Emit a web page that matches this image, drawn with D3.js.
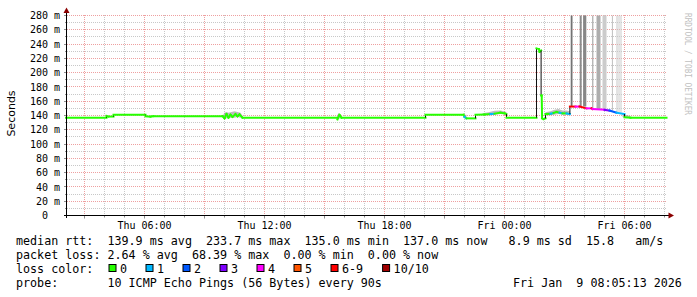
<!DOCTYPE html>
<html><head><meta charset="utf-8">
<script src="https://cdn.jsdelivr.net/npm/d3@7"></script>
<style>
html,body{margin:0;padding:0;background:#fff;}
svg{display:block;}
text{font-family:"DejaVu Sans Mono",monospace;}
</style></head><body>
<svg id="c" width="697" height="297"></svg>
<script>
// ---- data (time = hours since Thu 00:00) ----
const hours    = [2.08,4.1,4.1,4.2,4.45,4.45,6.05,6.05,6.3,6.45,9.9,10.0,10.1,10.2,10.3,10.4,10.55,10.65,10.75,10.9,15.65,15.65,15.75,15.85,20.05,20.05,21.95,22.0,22.1,22.55,22.55,23.0,23.3,23.5,23.8,24.0,24.1,24.1,25.6,25.6,25.72,25.75,25.83,25.83,25.86,25.88,25.95,26.05,26.05,26.3,26.45,26.6,26.75,26.9,27.1,27.27,27.27,27.55,27.75,28.1,28.35,28.4,29.0,29.25,29.6,30.0,30.0,30.3,32.1];
const medianMs = [137,137,139.5,138.5,138.5,141,141,139,138.5,139,139,136,142,137,141,138,142,139,141.5,137,137,134.5,141,137,137,141,141,138,136,136,141,141.5,142,142.5,144,143,142,137,137,234,233,229,231,168,168,136,135,136,142,142.5,143.5,145,144,143,143,142,152.5,152.5,152.5,150,150,149,148,147,144,142,137.5,137,137];
const lossPings= [0,0,0,0,0,0,0,0,0,0,0,0,0,0,0,0,0,0,0,0,0,0,0,0,0,0,0,1,0,0,0,0,1,0,0,0,0,0,0,0,0,0,0,0,0,0,0,0,0,1,0,0,1,0,1,0,7,4,7,4,7,4,3,2,1,1,0,0,0];

const smokeHours = [9.92,10.0,10.1,10.2,10.35,10.5,10.65,10.8,10.92,null,15.6,15.7,15.8,15.9,null,22.0,22.1,null,22.9,23.2,23.5,23.8,24.1,null,26.05,26.3,26.5,26.7,26.9,27.1,27.27,null,29.9,30.05,30.3];
const smokeLoMs  = [138,135,136,136,137,137,138,137,137,null,134,135,136,137,null,136,136,null,140,140.5,141,142,141,null,140,140.5,141,142,141,141,140,null,138,136.5,136.5];
const smokeHiMs  = [140,144,145,144,145,146,145,144,139,null,137,144,139,138,null,141,141,null,143,144.5,146.5,147,145,null,144.5,146,148,149,147,147,146,null,143,141,139];

const spikeHours = [27.31,27.76,27.93,28.39,28.6,28.9,29.37,29.6,29.7,29.8];
const spikeSpan  = [0.09,0.1,0.16,0.05,0.2,0.2,0.05,0.05,0.05,0.05];
const spikeShare = [0.55,0.45,0.47,0.4,0.32,0.2,0.25,0.22,0.2,0.2];

const yTickValues = d3.range(0, 281, 20);
const yMinorValues = d3.range(10, 281, 20);
const xLabelHours = [6, 12, 18, 24, 30];
const xLabelText  = ["Thu 06:00","Thu 12:00","Thu 18:00","Fri 00:00","Fri 06:00"];
const lossLabels = ["0","1","2","3","4","5","6-9","10/10"];
const lossColors = ["#26ff00","#00b8ff","#0059ff","#7e00ff","#ff00ff","#ff5500","#ff0000","#a00000"];
const statLines = [
  "median rtt:  139.9 ms avg  233.7 ms max  135.0 ms min  137.0 ms now   8.9 ms sd  15.8   am/s",
  "packet loss: 2.64 % avg  68.39 % max  0.00 % min  0.00 % now",
  "loss color:",
  "probe:       10 ICMP Echo Pings (56 Bytes) every 90s"
];
const stampText = "Fri Jan  9 08:05:13 2026";
const yTitle = "Seconds";
const watermark = "RRDTOOL / TOBI OETIKER";

// ---- drawing ----
const nb = s => s.replace(/ /g, "\u00a0");
const svg = d3.select("#c");
const x = d3.scaleLinear().domain([2.125, 32.125]).range([67, 667]);
const y = d3.scaleLinear().domain([0, 280]).range([215.5, 15.5]);
const crisp = v => Math.round(v - 0.5) + 0.5;
const lossColor = n => n <= 5 ? lossColors[n] : (n < 10 ? lossColors[6] : lossColors[7]);

const grid = svg.append("g");
grid.selectAll("line.hm").data(yMinorValues).join("line")
  .attr("x1", 67).attr("x2", 667).attr("y1", d => crisp(y(d))).attr("y2", d => crisp(y(d)))
  .attr("stroke", "#c8c8c8").attr("stroke-dasharray", "1,1");
const hourTicks = d3.range(3, 33).filter(h => h % 3 !== 0);
grid.selectAll("line.vm").data(hourTicks).join("line")
  .attr("x1", d => crisp(x(d))).attr("x2", d => crisp(x(d))).attr("y1", 15).attr("y2", 215)
  .attr("stroke", "#c8c8c8").attr("stroke-dasharray", "1,1");
grid.selectAll("line.hM").data(yTickValues.filter(v => v > 0)).join("line")
  .attr("x1", 67).attr("x2", 667).attr("y1", d => crisp(y(d))).attr("y2", d => crisp(y(d)))
  .attr("stroke", "#eea0a0").attr("stroke-dasharray", "1,1");
const majorHours = d3.range(3, 33).filter(h => h % 3 === 0);
grid.selectAll("line.vM").data(majorHours).join("line")
  .attr("x1", d => crisp(x(d))).attr("x2", d => crisp(x(d))).attr("y1", 15).attr("y2", 215)
  .attr("stroke", "#eea0a0").attr("stroke-dasharray", "1,1");

// spikes (smoke reaching the top)
const pts = hours.map((h, i) => ({h, v: medianMs[i], l: lossPings[i]}));
const medianAt = h => { const i = Math.max(0, d3.bisectRight(hours, h) - 1); return medianMs[i]; };
svg.append("g").selectAll("rect").data(spikeHours.map((h, i) => ({h, s: spikeSpan[i], k: spikeShare[i]}))).join("rect")
  .attr("x", d => x(d.h)).attr("width", d => Math.max(1, x(d.h + d.s) - x(d.h)))
  .attr("y", y(280)).attr("height", d => y(medianAt(d.h)) - y(280))
  .attr("fill", d => d3.interpolateRgb("#ffffff", "#000000")(d.k));

// smoke
const smoke = smokeHours.map((h, i) => ({h, lo: smokeLoMs[i], hi: smokeHiMs[i]}));
svg.append("path").datum(smoke)
  .attr("d", d3.area().defined(d => d.h != null).x(d => x(d.h)).y0(d => y(d.lo)).y1(d => y(d.hi)))
  .attr("fill", "#9a9a9a").attr("opacity", 0.65);

// median line, coloured by loss
const segs = d3.pairs(pts);
svg.append("g").selectAll("line").data(segs).join("line")
  .attr("x1", d => x(d[0].h)).attr("y1", d => y(d[0].v))
  .attr("x2", d => x(d[1].h)).attr("y2", d => y(d[1].v))
  .attr("stroke", d => d[0].h === d[1].h ? "#111" : lossColor(d[0].l))
  .attr("stroke-width", d => d[0].h === d[1].h ? 1 : 2)
  .attr("stroke-linecap", d => d[0].h === d[1].h ? "butt" : "square");

// axes
const ax = svg.append("g");
ax.append("line").attr("x1", 66.5).attr("x2", 66.5).attr("y1", 12).attr("y2", 218).attr("stroke", "#000");
ax.append("line").attr("x1", 64).attr("x2", 669).attr("y1", 215.5).attr("y2", 215.5).attr("stroke", "#000");
ax.append("path").attr("d", "M63.5,13 L69.5,13 L66.5,7.5 Z").attr("fill", "#8b0000");
ax.append("path").attr("d", "M668.5,212.5 L668.5,218.5 L674,215.5 Z").attr("fill", "#8b0000");
ax.selectAll("line.xt").data(d3.range(3, 33)).join("line")
  .attr("x1", d => crisp(x(d))).attr("x2", d => crisp(x(d)))
  .attr("y1", 216).attr("y2", d => d % 3 === 0 ? 218.5 : 217.5)
  .attr("stroke", "#909090");
ax.selectAll("line.yt").data(d3.range(10, 281, 10)).join("line")
  .attr("x1", d => d % 20 === 0 ? 64 : 65).attr("x2", 66)
  .attr("y1", d => crisp(y(d))).attr("y2", d => crisp(y(d)))
  .attr("stroke", "#909090");

// y labels
svg.append("g").selectAll("text").data(yTickValues).join("text")
  .attr("x", 60).attr("y", d => y(d) + 3.6).attr("text-anchor", "end")
  .attr("font-size", "10px").attr("fill", "#000")
  .text(d => nb(d === 0 ? "0  " : d + " m"));
// x labels
svg.append("g").selectAll("text").data(xLabelHours).join("text")
  .attr("x", d => x(d)).attr("y", 229).attr("text-anchor", "middle")
  .attr("font-size", "10px").attr("fill", "#000")
  .text((d, i) => nb(xLabelText[i]));

// y title
svg.append("text").attr("transform", "translate(15,113.5) rotate(-90)")
  .attr("text-anchor", "middle").style("font-family", "'DejaVu Sans',sans-serif")
  .attr("font-size", "11px").attr("fill", "#000").text(yTitle);

// watermark
svg.append("text").attr("transform", "translate(684.5,13) rotate(90)")
  .attr("font-size", "8px").attr("fill", "#c0c0c0")
  .attr("textLength", 102).attr("lengthAdjust", "spacingAndGlyphs").text(nb(watermark));

// legend rows
const rowY = [244.5, 258.5, 272.5, 286.5];
svg.append("g").selectAll("text").data(statLines).join("text")
  .attr("x", 16).attr("y", (d, i) => rowY[i]).attr("font-size", "11.7px").attr("fill", "#000").text(d => nb(d));
svg.append("text").attr("x", 513).attr("y", rowY[3]).attr("font-size", "11.7px").attr("fill", "#000").text(nb(stampText));

let bx = 109;
const lg = svg.append("g");
lossLabels.forEach((lab, i) => {
  lg.append("rect").attr("x", bx).attr("y", 264.5).attr("width", 7).attr("height", 7)
    .attr("fill", lossColors[i]).attr("stroke", "#000").attr("stroke-width", 1);
  lg.append("text").attr("x", bx + 11).attr("y", rowY[2]).attr("font-size", "11.7px").attr("fill", "#000").text(lab);
  bx += 29.7 + lab.length * 7.3;
});
</script>
</body></html>
